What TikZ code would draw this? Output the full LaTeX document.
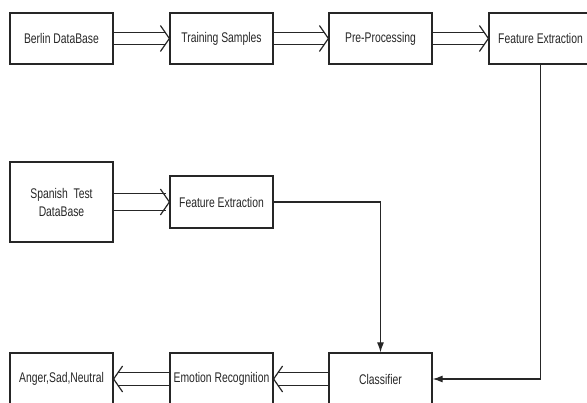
\documentclass[tikz,border=0pt]{standalone}
\usepackage{fontspec}
\setmainfont[FakeStretch=0.74]{Liberation Sans}
\usetikzlibrary{arrows.meta,calc}
\newcommand\dblright[3]{%
  \draw[conn] ($(#1.east)+(0,-#3)$) -- ($(#2.west)+({-9+9*#3/13},-#3)$);
  \draw[conn] ($(#1.east)+(0,#3)$) -- ($(#2.west)+({-9+9*#3/13},#3)$);
  \draw[conn] ($(#2.west)+(-9,-13)$) -- (#2.west) -- ($(#2.west)+(-9,13)$);}
\newcommand\dblleft[3]{%
  \draw[conn] ($(#1.west)+(0,-#3)$) -- ($(#2.east)+({9-9*#3/13},-#3)$);
  \draw[conn] ($(#1.west)+(0,#3)$) -- ($(#2.east)+({9-9*#3/13},#3)$);
  \draw[conn] ($(#2.east)+(9,-13)$) -- (#2.east) -- ($(#2.east)+(9,13)$);}
\begin{document}
\begin{tikzpicture}[x=1pt,y=-1pt,
  box/.style={draw=black!85, line width=1.2pt, minimum width=103pt, minimum height=51pt, inner sep=0pt,
    font=\fontsize{14}{18}\selectfont, text=black!85, align=center},
  conn/.style={draw=black!85, line width=1.2pt, line join=miter},
  sarrow/.style={draw=black!85, line width=1.2pt, -{Latex[length=10pt,width=7pt]}}]
\useasboundingbox (0,0) rectangle (587,403);
\begin{scope}
\clip (0,0) rectangle (587,403);
\node[box] (berlin) at (61.5,38.5) {Berlin DataBase};
\node[box] (train) at (221.5,38.5) {Training Samples};
\node[box] (pre) at (380.5,38.5) {Pre-Processing};
\node[box] (fe1) at (540.5,38.5) {Feature Extraction};
\node[box, minimum height=80pt] (spanish) at (61.5,202) {Spanish\ \ Test\\DataBase};
\node[box, minimum height=52pt] (fe2) at (221.5,202) {Feature Extraction};
\node[box, minimum height=52pt] (cls) at (380.5,379) {Classifier};
\node[box, minimum height=52pt] (emo) at (221.5,379) {Emotion Recognition};
\node[box, minimum height=52pt] (anger) at (61.5,379) {Anger,Sad,Neutral};
\dblright{berlin}{train}{6}
\dblright{train}{pre}{6}
\dblright{pre}{fe1}{6}
\dblright{spanish}{fe2}{8.5}
\dblleft{cls}{emo}{6.5}
\dblleft{emo}{anger}{6.5}
\draw[sarrow] (fe2.east) -| (cls.north);
\draw[sarrow] (fe1.south) |- (cls.east);
\end{scope}
\end{tikzpicture}
\end{document}
